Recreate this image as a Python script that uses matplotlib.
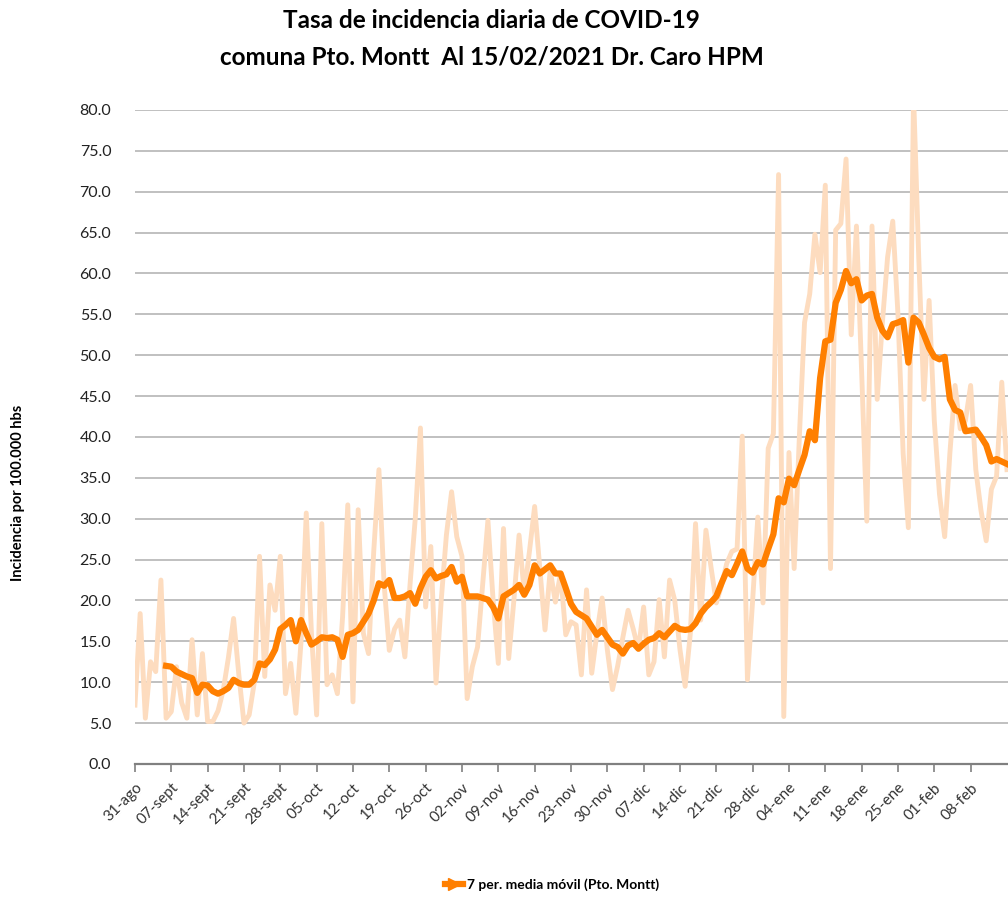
import numpy as np
import matplotlib
matplotlib.use("Agg")
import matplotlib.pyplot as plt
from matplotlib.lines import Line2D

plt.rcParams['font.family'] = ['Lato', 'DejaVu Sans']

# daily incidence per 100.000 hab, from 31-ago-2020 (day 0) to 15-feb-2021 (day 168)
daily = [
    7.2, 18.4, 5.6, 12.5, 11.3, 22.5, 5.6, 6.4, 11.9, 7.5,
    5.6, 15.2, 6.0, 13.5, 5.2, 5.2, 6.5, 9.0, 13.0, 17.8,
    11.0, 5.0, 6.0, 10.0, 25.4, 10.7, 21.9, 18.8, 25.4, 8.6,
    12.3, 6.2, 15.0, 30.7, 16.0, 6.0, 29.4, 9.7, 10.9, 8.6,
    18.0, 31.7, 7.6, 31.1, 16.0, 13.5, 26.0, 36.0, 22.0, 13.9,
    16.5, 17.6, 13.1, 22.0, 30.0, 41.1, 19.2, 26.6, 9.9, 20.0,
    28.0, 33.3, 27.8, 25.4, 8.0, 11.9, 14.3, 22.0, 29.8, 20.0,
    12.3, 28.8, 12.9, 20.0, 28.0, 20.9, 26.0, 31.5, 24.0, 16.4,
    23.7, 19.8, 23.3, 15.8, 17.4, 17.0, 10.9, 21.3, 11.1, 16.0,
    20.3, 14.0, 9.1, 12.0, 15.5, 18.8, 16.5, 14.0, 19.2, 10.9,
    12.5, 20.1, 13.1, 22.5, 20.0, 14.0, 9.5, 16.0, 29.4, 17.6,
    28.6, 24.0, 19.7, 21.8, 24.5, 26.0, 26.3, 40.1, 10.3, 20.0,
    30.2, 19.7, 38.6, 40.4, 72.1, 5.8, 38.1, 23.9, 40.0, 54.0,
    57.5, 64.8, 60.1, 70.8, 23.9, 65.3, 66.1, 74.0, 52.5, 65.8,
    48.0, 29.7, 65.8, 44.6, 54.0, 62.0, 66.4, 55.0, 38.0, 28.9,
    82.0, 62.0, 44.6, 56.7, 42.0, 33.0, 27.8, 38.0, 46.3, 41.0,
    42.0, 46.3, 36.0, 31.0, 27.3, 33.6, 35.2, 46.7, 36.0,
]

# 7 day moving average, starts at day 6 (07-sept)
ma_start = 6
media_movil = [
    12.0, 11.9, 11.3, 11.0, 10.7, 10.5, 8.7, 9.7, 9.6, 8.9,
    8.6, 8.9, 9.3, 10.3, 9.9, 9.7, 9.7, 10.3, 12.3, 12.1,
    12.8, 14.0, 16.5, 17.0, 17.6, 15.0, 17.6, 16.0, 14.6, 15.0,
    15.5, 15.4, 15.5, 15.2, 13.1, 15.8, 16.0, 16.4, 17.4, 18.4,
    20.0, 22.1, 21.8, 22.5, 20.3, 20.3, 20.5, 20.9, 19.6, 21.5,
    22.9, 23.7, 22.7, 23.0, 23.2, 24.1, 22.3, 22.9, 20.5, 20.5,
    20.5, 20.3, 20.1, 19.2, 17.8, 20.5, 20.9, 21.3, 21.9, 20.7,
    21.9, 24.3, 23.3, 23.8, 24.3, 23.3, 23.3, 21.5, 19.6, 18.6,
    18.2, 17.8, 16.8, 15.8, 16.4, 15.5, 14.6, 14.3, 13.5, 14.5,
    14.8, 14.1, 14.7, 15.2, 15.4, 16.0, 15.5, 16.2, 16.9, 16.5,
    16.4, 16.5, 17.2, 18.4, 19.2, 19.8, 20.5, 22.1, 23.6, 23.1,
    24.5, 26.0, 23.9, 23.4, 24.7, 24.4, 26.3, 28.1, 32.5, 32.0,
    34.9, 34.1, 36.0, 37.8, 40.7, 39.6, 47.2, 51.7, 51.9, 56.4,
    58.0, 60.3, 58.8, 59.3, 56.7, 57.3, 57.5, 54.6, 53.0, 52.2,
    53.8, 54.0, 54.3, 49.1, 54.6, 54.0, 52.5, 50.9, 49.8, 49.5,
    49.8, 44.6, 43.3, 43.0, 40.7, 40.8, 40.9, 40.0, 39.0, 37.0,
    37.3, 37.0, 36.7,
]

tick_labels = ["31-ago", "07-sept", "14-sept", "21-sept", "28-sept", "05-oct",
               "12-oct", "19-oct", "26-oct", "02-nov", "09-nov", "16-nov",
               "23-nov", "30-nov", "07-dic", "14-dic", "21-dic", "28-dic",
               "04-ene", "11-ene", "18-ene", "25-ene", "01-feb", "08-feb"]

peach = '#FDDCBF'
orange = '#FF7F00'

fig = plt.figure(figsize=(10.08, 8.97), dpi=100)
ax = fig.add_axes([0.1339, 0.1483, 0.8661, 0.7291])

x_daily = np.arange(len(daily))
x_ma = np.arange(ma_start, ma_start + len(media_movil))

ax.plot(x_daily, daily, color=peach, lw=3.5, solid_joinstyle='round', zorder=2)
ax.plot(x_ma, media_movil, color=orange, lw=4.5, solid_joinstyle='round', zorder=3)

ax.set_xlim(0, 168.2)
ax.set_ylim(0, 80)

# horizontal grid
ax.set_yticks(np.arange(0, 80.1, 5))
ax.set_yticklabels(["%.1f" % v for v in np.arange(0, 80.1, 5)])
ax.yaxis.grid(True, color='#C0C0C0', lw=1.4)
ax.set_axisbelow(True)
ax.tick_params(axis='y', length=0, pad=17, labelsize=11.5, labelcolor='#222222')

ax.set_xticks(np.arange(0, 7 * len(tick_labels), 7))
ax.set_xticklabels(tick_labels, rotation=45, ha='right', rotation_mode='anchor')
ax.tick_params(axis='x', direction='out', length=6, width=1.2, color='#808080',
               labelsize=11, labelcolor='#333333', pad=6)

for s in ['left', 'right', 'top']:
    ax.spines[s].set_visible(False)
ax.spines['bottom'].set_color('#808080')
ax.spines['bottom'].set_linewidth(1.6)
ax.spines['bottom'].set_zorder(4)

fig.text(18 / 1008, 1 - 493 / 897, "Incidencia por 100.000 hbs", rotation=90,
         ha='center', va='center', fontsize=10.5, fontweight='bold')

fig.text(0.488, 1 - 20 / 897, "Tasa de incidencia diaria de COVID-19", ha='center', va='center',
         fontsize=17.5, fontweight='bold')
fig.text(0.488, 1 - 57 / 897, "comuna Pto. Montt  Al 15/02/2021 Dr. Caro HPM", ha='center',
         va='center', fontsize=17.5, fontweight='bold')

handle = Line2D([], [], color=orange, lw=4.5, marker='>', markersize=9)
fig.legend([handle], ["7 per. media móvil (Pto. Montt)"], loc='center',
           bbox_to_anchor=(552 / 1008, 1 - 885 / 897), frameon=False, handlelength=1.3,
           numpoints=1, prop={'size': 10, 'weight': 'bold'}, handletextpad=0.3)

fig.savefig("out.png", dpi=100)
